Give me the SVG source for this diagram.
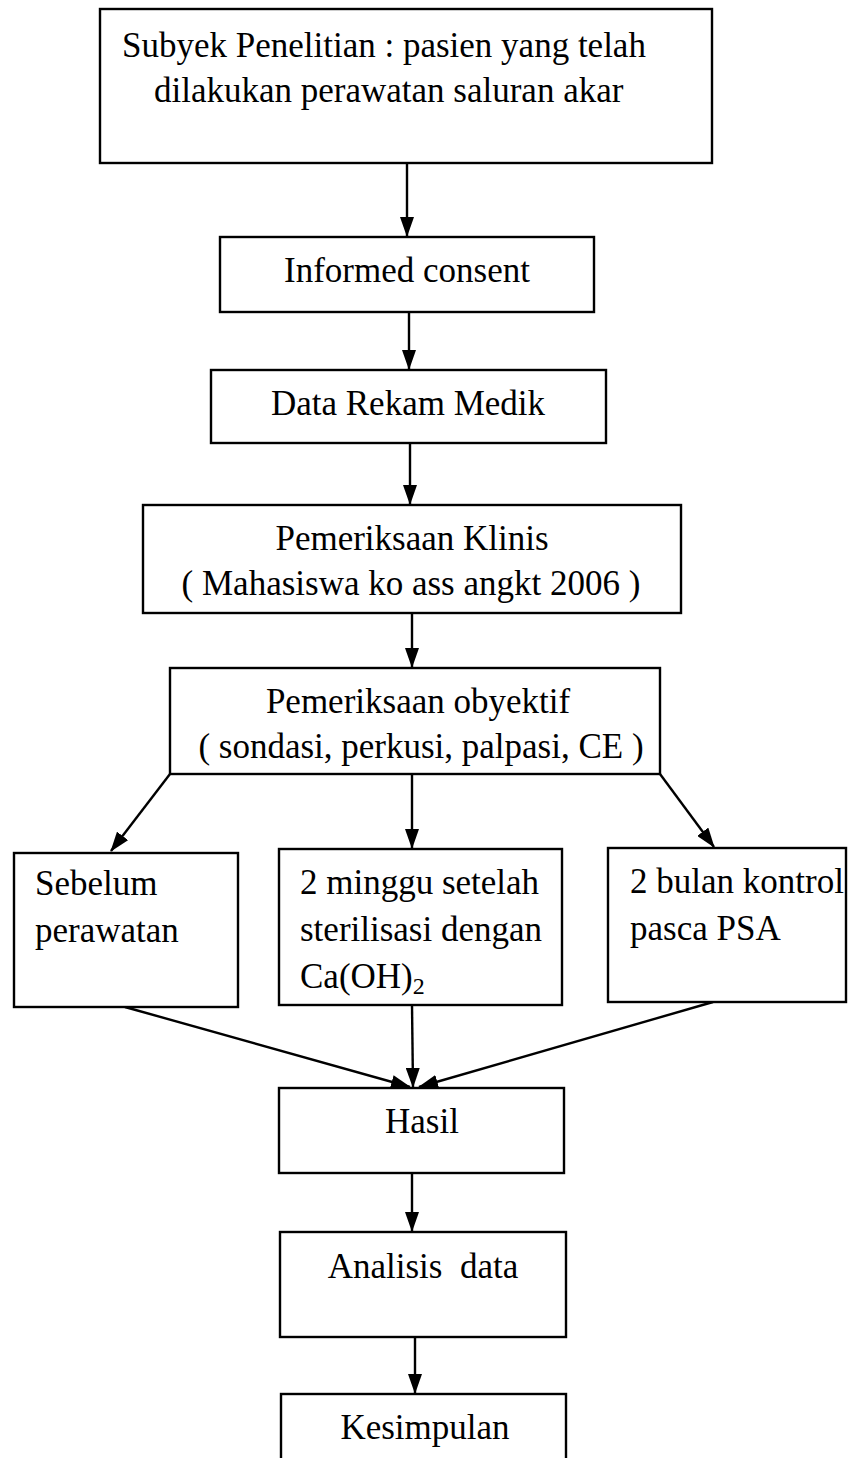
<svg xmlns="http://www.w3.org/2000/svg" width="849" height="1458" viewBox="0 0 849 1458">
<style>
.box{fill:#fff;stroke:#000;stroke-width:2.4}
.t{font-family:"Liberation Serif","Times New Roman",serif;font-size:35px;fill:#000}
.c{text-anchor:middle}
.con{stroke:#000;stroke-width:2.4;fill:none;marker-end:url(#ah)}
</style>
<defs>
<marker id="ah" markerUnits="userSpaceOnUse" markerWidth="20" markerHeight="14" viewBox="0 0 20 14" refX="19" refY="7" orient="auto">
<path d="M0,0 L20,7 L0,14 Z" fill="#000"/>
</marker>
</defs>
<rect width="849" height="1458" fill="#fff"/>
<g id="connectors">
<line class="con" x1="407" y1="163" x2="407" y2="236"/>
<line class="con" x1="409" y1="312" x2="409" y2="369"/>
<line class="con" x1="410" y1="443" x2="410" y2="504"/>
<line class="con" x1="412" y1="613" x2="412" y2="667"/>
<line class="con" x1="170" y1="774" x2="111" y2="851"/>
<line class="con" x1="412" y1="774" x2="412" y2="848"/>
<line class="con" x1="660" y1="774" x2="714" y2="847"/>
<line class="con" x1="125" y1="1007" x2="410" y2="1087"/>
<line class="con" x1="412" y1="1005" x2="413" y2="1087"/>
<line class="con" x1="713" y1="1002" x2="419" y2="1087"/>
<line class="con" x1="412" y1="1173" x2="412" y2="1231"/>
<line class="con" x1="415" y1="1337" x2="415" y2="1393"/>
</g>
<g id="n1"><rect class="box" x="100" y="9" width="612" height="154"/>
<text class="t" x="122" y="57">Subyek Penelitian : pasien yang telah</text>
<text class="t" x="154" y="102">dilakukan perawatan saluran akar</text></g>
<g id="n2"><rect class="box" x="220" y="237" width="374" height="75"/>
<text class="t c" x="407" y="282">Informed consent</text></g>
<g id="n3"><rect class="box" x="211" y="370" width="395" height="73"/>
<text class="t c" x="408" y="415">Data Rekam Medik</text></g>
<g id="n4"><rect class="box" x="143" y="505" width="538" height="108"/>
<text class="t c" x="412" y="550">Pemeriksaan Klinis</text>
<text class="t c" x="411" y="595">( Mahasiswa ko ass angkt 2006 )</text></g>
<g id="n5"><rect class="box" x="170" y="668" width="490" height="106"/>
<text class="t c" x="418" y="713">Pemeriksaan obyektif</text>
<text class="t c" x="421" y="758">( sondasi, perkusi, palpasi, CE )</text></g>
<g id="n6"><rect class="box" x="14" y="853" width="224" height="154"/>
<text class="t" x="35" y="895">Sebelum</text>
<text class="t" x="35" y="942">perawatan</text></g>
<g id="n7"><rect class="box" x="279" y="849" width="283" height="156"/>
<text class="t" x="300" y="894">2 minggu setelah</text>
<text class="t" x="300" y="941">sterilisasi dengan</text>
<text class="t" x="300" y="988">Ca(OH)<tspan font-size="24" dy="6">2</tspan></text></g>
<g id="n8"><rect class="box" x="608" y="848" width="238" height="154"/>
<text class="t" x="630" y="893">2 bulan kontrol</text>
<text class="t" x="630" y="940">pasca PSA</text></g>
<g id="n9"><rect class="box" x="279" y="1088" width="285" height="85"/>
<text class="t c" x="422" y="1133">Hasil</text></g>
<g id="n10"><rect class="box" x="280" y="1232" width="286" height="105"/>
<text class="t c" x="423" y="1278" style="white-space:pre">Analisis  data</text></g>
<g id="n11"><rect class="box" x="281" y="1394" width="285" height="80"/>
<text class="t c" x="425" y="1439">Kesimpulan</text></g>
</svg>
